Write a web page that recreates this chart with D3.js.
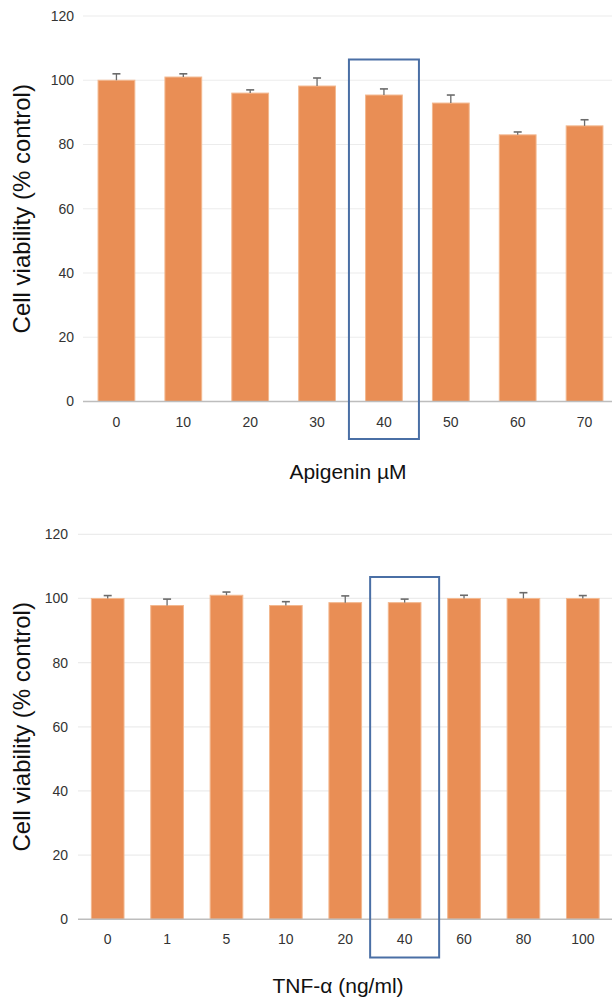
<!DOCTYPE html>
<html>
<head>
<meta charset="utf-8">
<script src="https://cdn.jsdelivr.net/npm/d3@7"></script>
<style>
  html, body { margin: 0; padding: 0; background: #fff; }
  svg { display: block; font-family: "Liberation Sans", Arial, sans-serif; }
</style>
</head>
<body>
<svg id="chart" width="612" height="1001"></svg>
<script>
// ---- data ----
const apigeninDoses = ["0", "10", "20", "30", "40", "50", "60", "70"];
const apigeninViability = [100, 101, 96, 98.2, 95.4, 92.9, 83, 85.8];
const apigeninError = [2, 1, 1, 2.5, 1.9, 2.5, 0.9, 1.9];

const tnfDoses = ["0", "1", "5", "10", "20", "40", "60", "80", "100"];
const tnfViability = [100, 97.8, 101, 97.8, 98.7, 98.7, 100, 100, 100];
const tnfError = [0.9, 2, 1, 1.2, 2.1, 1.1, 1, 1.8, 0.9];

const yTicks = [0, 20, 40, 60, 80, 100, 120];
const highlighted = ["40", "40"];

const svg = d3.select("#chart");

function drawPanel(cfg) {
  const g = svg.append("g");
  const x = d3.scaleBand().domain(cfg.cats).range([cfg.x0, cfg.x1]).paddingInner(cfg.padIn).paddingOuter(cfg.padIn / 2);
  const y = d3.scaleLinear().domain([0, 120]).range([cfg.yBase, cfg.yTop]);

  // gridlines
  g.selectAll("line.grid").data(yTicks.filter(t => t > 0)).enter().append("line")
    .attr("x1", cfg.gridX0).attr("x2", 612)
    .attr("y1", d => y(d)).attr("y2", d => y(d))
    .attr("stroke", "#ececec").attr("stroke-width", 1.2);

  // y tick labels
  g.selectAll("text.ytick").data(yTicks).enter().append("text")
    .attr("x", cfg.yLabelX).attr("y", d => y(d)).attr("dy", "0.35em")
    .attr("text-anchor", "end").attr("font-size", 14).attr("fill", "#333")
    .text(d => d);

  // bars
  g.selectAll("rect.bar").data(cfg.vals).enter().append("rect")
    .attr("x", (d, i) => x(cfg.cats[i]))
    .attr("y", d => y(d))
    .attr("width", x.bandwidth())
    .attr("height", d => y(0) - y(d))
    .attr("fill", "#e98e55")
    .attr("stroke", "#f3b88f").attr("stroke-width", 1);

  // error bars (upper only)
  const eb = g.selectAll("g.err").data(cfg.vals).enter().append("g");
  eb.append("line")
    .attr("x1", (d, i) => x(cfg.cats[i]) + x.bandwidth() / 2)
    .attr("x2", (d, i) => x(cfg.cats[i]) + x.bandwidth() / 2)
    .attr("y1", d => y(d))
    .attr("y2", (d, i) => y(d + cfg.errs[i]))
    .attr("stroke", "#6b6b6b").attr("stroke-width", 1.3);
  eb.append("line")
    .attr("x1", (d, i) => x(cfg.cats[i]) + x.bandwidth() / 2 - 4)
    .attr("x2", (d, i) => x(cfg.cats[i]) + x.bandwidth() / 2 + 4)
    .attr("y1", (d, i) => y(d + cfg.errs[i]))
    .attr("y2", (d, i) => y(d + cfg.errs[i]))
    .attr("stroke", "#6b6b6b").attr("stroke-width", 1.6);

  // x axis line
  g.append("line")
    .attr("x1", cfg.gridX0).attr("x2", 612)
    .attr("y1", y(0)).attr("y2", y(0))
    .attr("stroke", "#bdbdbd").attr("stroke-width", 1.6);

  // x tick labels
  g.selectAll("text.xtick").data(cfg.cats).enter().append("text")
    .attr("x", d => x(d) + x.bandwidth() / 2)
    .attr("y", cfg.xLabelY)
    .attr("text-anchor", "middle").attr("font-size", 14).attr("fill", "#333")
    .text(d => d);

  // x title
  g.append("text")
    .attr("x", cfg.titleX).attr("y", cfg.titleY)
    .attr("text-anchor", "middle").attr("font-size", 21).attr("fill", "#111")
    .text(cfg.xTitle);

  // y title
  g.append("text")
    .attr("transform", `translate(${cfg.yTitleX},${(cfg.yBase + cfg.yTop) / 2}) rotate(-90)`)
    .attr("text-anchor", "middle").attr("font-size", 24).attr("fill", "#111")
    .text("Cell viability (% control)");

  // highlight box
  const hx = x(cfg.highlight) + x.bandwidth() / 2;
  g.append("rect")
    .attr("x", hx - cfg.boxW / 2).attr("y", cfg.boxTop)
    .attr("width", cfg.boxW).attr("height", cfg.boxBottom - cfg.boxTop)
    .attr("fill", "none").attr("stroke", "#4a6fa5").attr("stroke-width", 2);
}

drawPanel({
  cats: apigeninDoses, vals: apigeninViability, errs: apigeninError,
  x0: 83, x1: 618, padIn: 0.45,
  yBase: 401.5, yTop: 16, gridX0: 83, yLabelX: 74,
  xLabelY: 427, titleX: 348, titleY: 479, xTitle: "Apigenin µM",
  yTitleX: 30, highlight: highlighted[0], boxW: 70, boxTop: 59.5, boxBottom: 439
});

drawPanel({
  cats: tnfDoses, vals: tnfViability, errs: tnfError,
  x0: 78, x1: 612.5, padIn: 0.45,
  yBase: 919.3, yTop: 534.3, gridX0: 78, yLabelX: 68,
  xLabelY: 944, titleX: 338, titleY: 993, xTitle: "TNF-α (ng/ml)",
  yTitleX: 30, highlight: highlighted[1], boxW: 69, boxTop: 577, boxBottom: 957.5
});
</script>
</body>
</html>
